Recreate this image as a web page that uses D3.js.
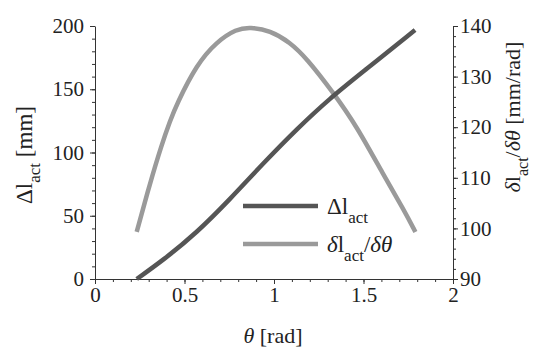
<!DOCTYPE html>
<html>
<head>
<meta charset="utf-8">
<script src="https://cdn.jsdelivr.net/npm/d3@7"></script>
<style>
  body { margin: 0; background: #fff; }
  svg text { font-family: "Liberation Serif", "Times New Roman", serif; fill: #222; }
  .axis path, .axis line { stroke: #333; }
</style>
</head>
<body>
<div id="chart"></div>
<script>
const width = 550, height = 356;
const margin = ({top: 26, right: 97, bottom: 77, left: 95});

// displacement curve  Δl_act [mm] (left axis)
const thetaDisp = [0.233, 0.382, 0.568, 0.754, 0.94, 1.127, 1.313, 1.499, 1.788];
const dispVals  = [0, 15.0, 36.5, 63.0, 91.5, 118.5, 143.0, 164.0, 196.8];

// derivative curve  δl_act/δθ [mm/rad] (right axis)
const thetaDeriv = [0.233, 0.307, 0.372, 0.419, 0.456, 0.568, 0.68, 0.79, 0.866, 0.978, 1.089, 1.183, 1.332, 1.462, 1.611, 1.723, 1.79];
const derivVals  = [99.3, 108.9, 116.5, 121.2, 124.5, 132.4, 136.9, 139.4, 139.8, 139.1, 136.8, 133.6, 126.8, 120.2, 110.6, 103.8, 99.3];

const xTicks = [0, 0.5, 1, 1.5, 2];
const yLeftTicks = [0, 50, 100, 150, 200];
const yRightTicks = [90, 100, 110, 120, 130, 140];

const x = d3.scaleLinear().domain([0, 2]).range([margin.left, width - margin.right]);
const yL = d3.scaleLinear().domain([0, 200]).range([height - margin.bottom, margin.top]);
const yR = d3.scaleLinear().domain([90, 140]).range([height - margin.bottom, margin.top]);

const svg = d3.select("#chart").append("svg").attr("width", width).attr("height", height);

// minor ticks
const minor = (axis, g) => { g.call(axis); g.selectAll("text").remove(); g.select(".domain").remove(); };
svg.append("g").attr("class", "axis").attr("transform", `translate(0,${height - margin.bottom})`)
  .call(g => minor(d3.axisBottom(x).tickValues(d3.range(0, 2.001, 0.1)).tickSize(3), g));
svg.append("g").attr("class", "axis").attr("transform", `translate(${margin.left},0)`)
  .call(g => minor(d3.axisLeft(yL).tickValues(d3.range(0, 201, 10)).tickSize(3), g));
svg.append("g").attr("class", "axis").attr("transform", `translate(${width - margin.right},0)`)
  .call(g => minor(d3.axisRight(yR).tickValues(d3.range(90, 141, 2)).tickSize(3), g));

// main axes
const fmt = d3.format("~g");
svg.append("g").attr("class", "axis").attr("transform", `translate(0,${height - margin.bottom})`)
  .call(d3.axisBottom(x).tickValues(xTicks).tickFormat(fmt).tickSize(5).tickSizeOuter(0).tickPadding(3))
  .call(g => g.selectAll("text").attr("font-size", 21));
svg.append("g").attr("class", "axis").attr("transform", `translate(${margin.left},0)`)
  .call(d3.axisLeft(yL).tickValues(yLeftTicks).tickSize(5).tickSizeOuter(0).tickPadding(6))
  .call(g => g.selectAll("text").attr("font-size", 21));
svg.append("g").attr("class", "axis").attr("transform", `translate(${width - margin.right},0)`)
  .call(d3.axisRight(yR).tickValues(yRightTicks).tickSize(5).tickSizeOuter(0).tickPadding(2))
  .call(g => g.selectAll("text").attr("font-size", 21));

// curves
const dispLine = d3.line().x(d => x(d[0])).y(d => yL(d[1])).curve(d3.curveBasis);
const derivLine = d3.line().x(d => x(d[0])).y(d => yR(d[1])).curve(d3.curveBasis);

svg.append("path").datum(d3.zip(thetaDeriv, derivVals))
  .attr("d", derivLine).attr("fill", "none").attr("stroke", "#9a9a9a").attr("stroke-width", 4.5);
svg.append("path").datum(d3.zip(thetaDisp, dispVals))
  .attr("d", dispLine).attr("fill", "none").attr("stroke", "#555").attr("stroke-width", 4.5);

// legend
const legend = svg.append("g").attr("transform", "translate(243,206)");
legend.append("line").attr("x1", 0).attr("x2", 75).attr("y1", 0).attr("y2", 0)
  .attr("stroke", "#555").attr("stroke-width", 4.5);
legend.append("line").attr("x1", 0).attr("x2", 75).attr("y1", 38).attr("y2", 38)
  .attr("stroke", "#9a9a9a").attr("stroke-width", 4.5);
let t1 = legend.append("text").attr("x", 84).attr("y", 8).attr("font-size", 23);
t1.append("tspan").text("Δl");
t1.append("tspan").attr("font-size", 17).attr("dy", 9).text("act");
let t2 = legend.append("text").attr("x", 84).attr("y", 46).attr("font-size", 23);
t2.append("tspan").attr("font-style", "italic").text("δ");
t2.append("tspan").text("l");
t2.append("tspan").attr("font-size", 17).attr("dy", 9).text("act");
t2.append("tspan").attr("dy", -9).text("/");
t2.append("tspan").attr("font-style", "italic").text("δθ");

// axis titles
let xt = svg.append("text").attr("x", 273).attr("y", 343).attr("text-anchor", "middle").attr("font-size", 22);
xt.append("tspan").attr("font-style", "italic").text("θ");
xt.append("tspan").text(" [rad]");

let yt = svg.append("text").attr("transform", "translate(32,155) rotate(-90)")
  .attr("text-anchor", "middle").attr("font-size", 23);
yt.append("tspan").text("Δl");
yt.append("tspan").attr("font-size", 17).attr("dy", 8).text("act");
yt.append("tspan").attr("dy", -8).text(" [mm]");

let rt = svg.append("text").attr("transform", "translate(520,117) rotate(-90)")
  .attr("text-anchor", "middle").attr("font-size", 22);
rt.append("tspan").attr("font-style", "italic").text("δ");
rt.append("tspan").text("l");
rt.append("tspan").attr("font-size", 16).attr("dy", 8).text("act");
rt.append("tspan").attr("dy", -8).text("/");
rt.append("tspan").attr("font-style", "italic").text("δθ");
rt.append("tspan").text(" [mm/rad]");
</script>
</body>
</html>
